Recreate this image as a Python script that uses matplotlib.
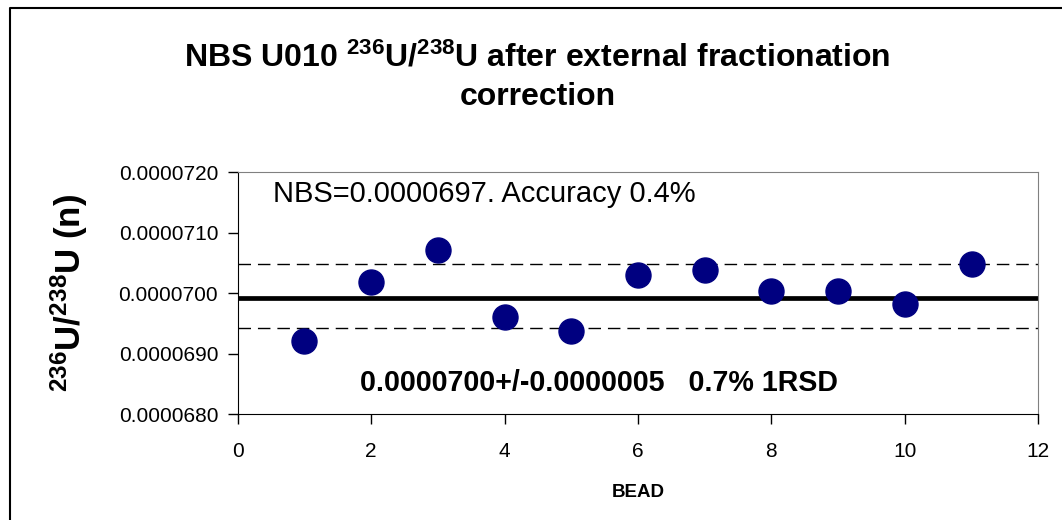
import matplotlib
matplotlib.use("Agg")
import matplotlib.pyplot as plt
from matplotlib.lines import Line2D

plt.rcParams["font.family"] = ["Liberation Sans", "DejaVu Sans"]
plt.rcParams["mathtext.fontset"] = "custom"
plt.rcParams["mathtext.rm"] = "Liberation Sans:bold"
plt.rcParams["mathtext.default"] = "rm"

# data
bead = [1, 2, 3, 4, 5, 6, 7, 8, 9, 10, 11]
ratio = [69.21e-6, 70.18e-6, 70.72e-6, 69.61e-6, 69.37e-6, 70.30e-6,
         70.39e-6, 70.03e-6, 70.03e-6, 69.82e-6, 70.48e-6]
mean_val = 69.93e-6
upper_val = 70.49e-6
lower_val = 69.42e-6
x_ticks = [0, 2, 4, 6, 8, 10, 12]
y_ticks = [68e-6, 69e-6, 70e-6, 71e-6, 72e-6]

fig = plt.figure(figsize=(10.62, 5.2), dpi=100)
ax = fig.add_axes([0.2238, 0.2033, 0.7539, 0.4654])

ax.plot([0, 12], [mean_val, mean_val], color="black", lw=3.4, solid_capstyle="butt", zorder=2)
for v in (upper_val, lower_val):
    ax.plot([0, 12], [v, v], color="black", lw=1.0, dashes=(9, 5), zorder=2)
ax.plot(bead, ratio, "o", color="#000080", ms=18, mec="#000080", zorder=3)

ax.set_xlim(0, 12)
ax.set_ylim(68e-6, 72e-6)
ax.set_xticks(x_ticks)
ax.set_yticks(y_ticks)
ax.set_yticklabels([f"{v:.7f}" for v in y_ticks])
ax.tick_params(axis="both", direction="out", length=7, width=1, labelsize=15)
ax.tick_params(axis="x", pad=13)
ax.tick_params(axis="y", pad=7)
for s in ("top", "right"):
    ax.spines[s].set_color("#808080")
for s in ("left", "bottom"):
    ax.spines[s].set_color("black")

ax.set_xlabel("BEAD", fontsize=13.5, fontweight="bold")
ax.xaxis.set_label_coords(0.5, -0.29)
ax.set_ylabel(r"$^{236}$U/$^{238}$U (n)", fontsize=25, fontweight="bold")
ax.yaxis.set_label_coords(-0.1845, 0.50)

ax.text(0.044, 0.91, "NBS=0.0000697. Accuracy 0.4%", transform=ax.transAxes,
        fontsize=21, va="center", ha="left")
ax.text(0.451, 0.13, "0.0000700+/-0.0000005   0.7% 1RSD", transform=ax.transAxes,
        fontsize=20.6, fontweight="bold", va="center", ha="center")

fig.text(0.506, 0.852, r"NBS U010 $^{236}$U/$^{238}$U after external fractionation" + "\ncorrection",
         ha="center", va="center", fontsize=23, fontweight="bold", linespacing=1.38)

fig.add_artist(Line2D([10 / 1062, 10 / 1062, 1.1], [-0.1, 1 - 8 / 520, 1 - 8 / 520],
                      transform=fig.transFigure, color="black", lw=1.5))

fig.savefig("out.png", dpi=100)
